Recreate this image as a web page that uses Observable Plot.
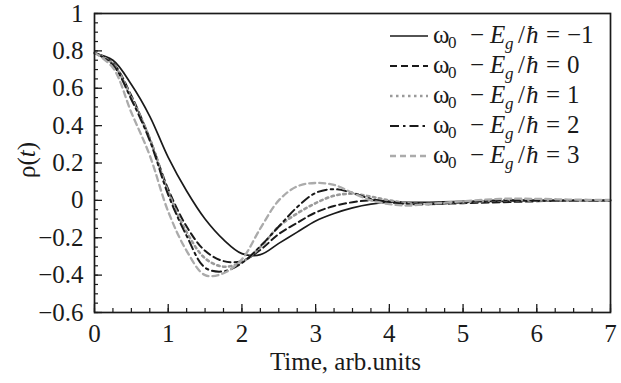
<!DOCTYPE html>
<html><head><meta charset="utf-8">
<script src="https://cdn.jsdelivr.net/npm/d3@7"></script>
<script src="https://cdn.jsdelivr.net/npm/@observablehq/plot@0.6"></script>
<style>
body{margin:0;background:#fff;}
#wrap{position:relative;width:621px;height:383px;font-family:'Liberation Serif',serif;}
#wrap svg, #wrap svg text, #wrap svg tspan{font-family:'Liberation Serif',serif !important;}
</style></head>
<body><div id="wrap"></div>
<script>
// time grid (arb. units)
const time = [0, 0.25, 0.5, 0.75, 1, 1.25, 1.5, 1.75, 2, 2.25, 2.5, 2.75, 3, 3.25, 3.5, 3.75, 4, 4.25, 4.5, 5, 5.5, 6, 6.5, 7];
// rho(t) for omega0 - Eg/hbar = -1, 0, 1, 2, 3
const rhoM1 = [0.785, 0.75, 0.62, 0.45, 0.23, 0.05, -0.10, -0.21, -0.285, -0.29, -0.23, -0.17, -0.11, -0.07, -0.04, -0.02, -0.01, -0.01, -0.01, -0.005, -0.005, -0.003, 0, 0];
const rho0  = [0.79, 0.735, 0.56, 0.33, 0.06, -0.14, -0.27, -0.325, -0.325, -0.265, -0.18, -0.12, -0.065, -0.03, -0.01, 0.0, -0.005, -0.015, -0.02, -0.015, -0.01, -0.005, 0, 0];
const rho1  = [0.79, 0.73, 0.55, 0.33, 0.045, -0.17, -0.31, -0.355, -0.33, -0.25, -0.14, -0.07, -0.015, 0.025, 0.035, 0.02, 0.0, -0.015, -0.02, -0.01, 0.0, 0.0, 0, 0];
const rho2  = [0.79, 0.725, 0.54, 0.32, 0.03, -0.19, -0.36, -0.38, -0.335, -0.245, -0.14, -0.036, 0.04, 0.06, 0.04, 0.008, -0.01, -0.02, -0.02, -0.01, 0, 0, 0, 0];
const rho3  = [0.79, 0.71, 0.47, 0.24, -0.06, -0.27, -0.40, -0.39, -0.315, -0.15, 0.0, 0.075, 0.093, 0.083, 0.04, 0.0, -0.02, -0.028, -0.02, -0.005, 0.008, 0.008, 0.004, 0.002];

const legendValues = ["−1", "0", "1", "2", "3"];
const xTicks = [0, 1, 2, 3, 4, 5, 6, 7];
const yTicks = [-0.6, -0.4, -0.2, 0, 0.2, 0.4, 0.6, 0.8, 1];
const xMinorTicks = d3.range(0, 28.5).map(i => i * 0.25);
const yMinorTicks = d3.range(0, 32.5).map(i => -0.6 + i * 0.05);
const xTitle = "Time, arb.units";

const FONT = "'Liberation Serif', serif";

const seriesValues = [rhoM1, rho0, rho1, rho2, rho3];
const styles = [
  {stroke: "#1a1a1a", strokeWidth: 1.7, dash: null},
  {stroke: "#1a1a1a", strokeWidth: 2, dash: "7,4"},
  {stroke: "#9a9a9a", strokeWidth: 2.6, dash: "2.5,3.5"},
  {stroke: "#1a1a1a", strokeWidth: 2, dash: "9,4,2.5,4"},
  {stroke: "#ababab", strokeWidth: 2.3, dash: "6,4"}
];

const fmt = d => {
  const r = Math.round(d * 10) / 10;
  const s = Number.isInteger(r) ? String(r) : r.toFixed(1);
  return s.replace("-", "−");
};

const lines = seriesValues.map((vals, k) => Plot.line(time.map((t, i) => ({t, v: vals[i]})), {
  x: "t", y: "v", stroke: styles[k].stroke, strokeWidth: styles[k].strokeWidth,
  strokeDasharray: styles[k].dash, curve: "catmull-rom"
}));

const svg = Plot.plot({
  width: 621, height: 383,
  marginLeft: 94, marginRight: 11, marginTop: 13, marginBottom: 71,
  x: {domain: [0, 7]},
  y: {domain: [-0.6, 1]},
  style: {fontFamily: FONT, fontSize: "25px", color: "#1a1a1a", background: "#fff", overflow: "visible"},
  marks: [
    ...lines,
    Plot.axisX(xMinorTicks, {tickSize: -4, fill: "none", strokeWidth: 1.2, label: null}),
    Plot.axisY(yMinorTicks, {tickSize: -4, fill: "none", strokeWidth: 1.2, label: null}),
    Plot.axisX(xTicks, {tickSize: -8, tickPadding: 20, strokeWidth: 1.3, tickFormat: fmt, label: null}),
    Plot.axisY(yTicks, {tickSize: -8, tickPadding: 19, strokeWidth: 1.3, tickFormat: fmt, label: null}),
    Plot.frame({stroke: "#1a1a1a", strokeWidth: 1.7}),
    Plot.text([xTitle], {frameAnchor: "bottom", dy: 57, dx: -7, fontSize: 25, fill: "#1a1a1a"})
  ]
});
document.getElementById("wrap").appendChild(svg);

// legend and y-axis title
const g = d3.select(svg).append("g").attr("fill", "#1a1a1a").attr("text-anchor", "start");
styles.forEach((s, i) => {
  const yLine = 36 + 30 * i;
  const yb = yLine + 7;
  g.append("line").attr("x1", 390).attr("x2", 428).attr("y1", yLine).attr("y2", yLine)
    .attr("stroke", s.stroke).attr("stroke-width", s.strokeWidth).attr("stroke-dasharray", s.dash);
  const t = g.append("text").attr("font-size", 25);
  t.append("tspan").attr("x", 433).attr("y", yb).text("ω");
  t.append("tspan").attr("x", 448).attr("y", yb + 5).attr("font-size", 17).text("0");
  t.append("tspan").attr("x", 470).attr("y", yb).text("−");
  t.append("tspan").attr("x", 490).attr("y", yb).attr("font-style", "italic").text("E");
  t.append("tspan").attr("x", 505).attr("y", yb + 6).attr("font-style", "italic").attr("font-size", 17).text("g");
  t.append("tspan").attr("x", 518).attr("y", yb).text("/");
  t.append("tspan").attr("x", 526).attr("y", yb).attr("font-style", "italic").text("ħ");
  t.append("tspan").attr("x", 546).attr("y", yb).text("=");
  t.append("tspan").attr("x", 567).attr("y", yb).text(legendValues[i]);
});
const yt = g.append("text").attr("transform", "translate(35,160) rotate(-90)").attr("text-anchor", "middle").attr("font-size", 25);
yt.append("tspan").text("ρ(");
yt.append("tspan").attr("font-style", "italic").text("t");
yt.append("tspan").text(")");
</script>
</body></html>
